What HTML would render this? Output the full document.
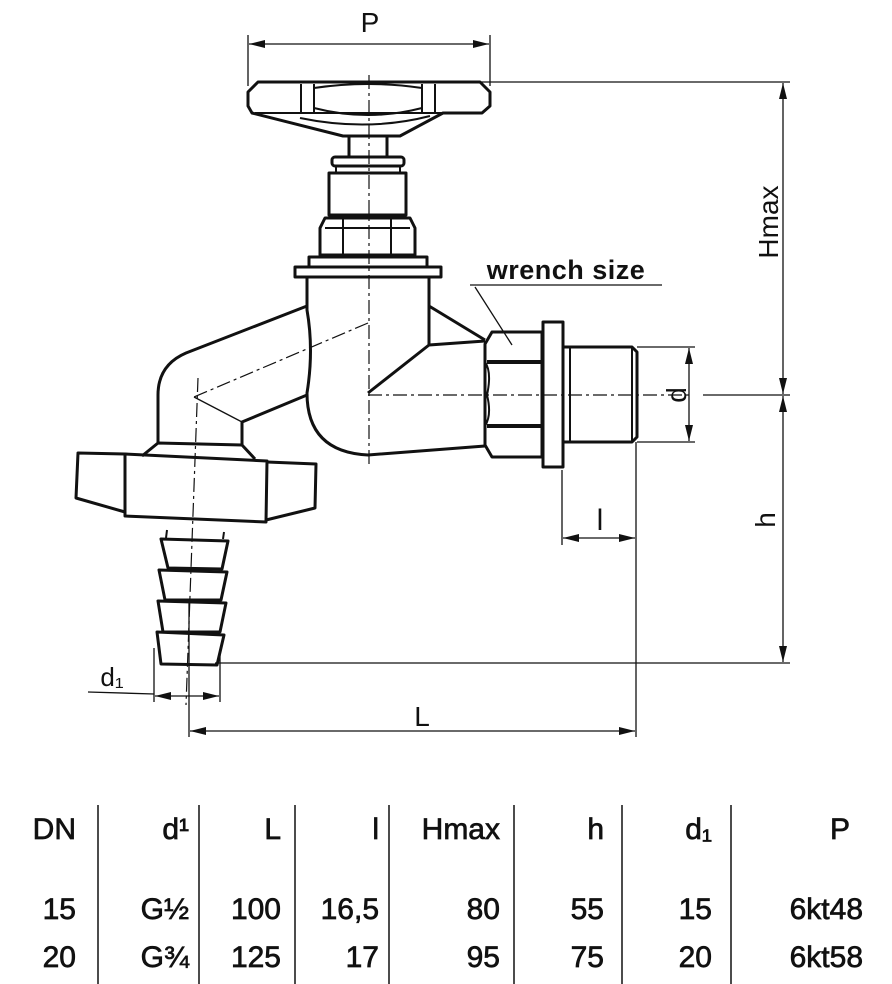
<!DOCTYPE html>
<html><head><meta charset="utf-8"><style>
body{margin:0;background:#fff;width:892px;height:984px;overflow:hidden}
svg{display:block}
text{font-family:"Liberation Sans",sans-serif;fill:#111}
</style></head><body>
<svg width="892" height="984" viewBox="0 0 892 984" xmlns="http://www.w3.org/2000/svg">
<defs>
<marker id="b" viewBox="0 0 16 8" refX="16" refY="4" markerWidth="16" markerHeight="8" orient="auto-start-reverse" markerUnits="userSpaceOnUse"><path d="M0,0 L16,4 L0,8 Z" fill="#111"/></marker>
</defs>
<g fill="none" stroke="#111" stroke-width="1.3">
<line x1="248" y1="35" x2="248" y2="86"/><line x1="490" y1="35" x2="490" y2="86"/>
<line x1="249" y1="44" x2="489" y2="44" marker-start="url(#b)" marker-end="url(#b)"/>
<line x1="480" y1="82" x2="790" y2="82"/>
<line x1="783" y1="83" x2="783" y2="394" marker-start="url(#b)" marker-end="url(#b)"/>
<line x1="783" y1="396" x2="783" y2="662" marker-start="url(#b)" marker-end="url(#b)"/>
<line x1="703" y1="395" x2="790" y2="395"/>
<line x1="215" y1="663" x2="790" y2="663"/>
<line x1="637" y1="347" x2="695" y2="347"/><line x1="637" y1="442" x2="695" y2="442"/>
<line x1="689" y1="348" x2="689" y2="441" marker-start="url(#b)" marker-end="url(#b)"/>
<line x1="562" y1="470" x2="562" y2="545"/><line x1="636" y1="442" x2="636" y2="737"/>
<line x1="563" y1="538" x2="635" y2="538" marker-start="url(#b)" marker-end="url(#b)"/>
<line x1="154" y1="648" x2="154" y2="702"/><line x1="220" y1="655" x2="220" y2="702"/>
<line x1="88" y1="692" x2="154" y2="694"/>
<line x1="155" y1="696" x2="219" y2="696" marker-start="url(#b)" marker-end="url(#b)"/>
<line x1="189" y1="600" x2="189" y2="737"/>
<line x1="190" y1="731" x2="635" y2="731" marker-start="url(#b)" marker-end="url(#b)"/>
<line x1="470" y1="285" x2="662" y2="285"/><line x1="475" y1="287" x2="512" y2="345"/>
<g stroke-dasharray="14,4,3,4" stroke-width="1.2">
<line x1="369" y1="75" x2="369" y2="465"/>
<line x1="368" y1="395" x2="690" y2="395"/>
<line x1="368" y1="323" x2="194" y2="397"/>
<line x1="198" y1="378" x2="186" y2="705"/>
</g>
<line x1="194" y1="397" x2="242" y2="422"/>
</g>
<g fill="none" stroke="#111" stroke-width="3" stroke-linejoin="round">
<path d="M258,82 L480,82 L490,92 L490,106 L482,113 L443,113 L400,136 L343,136 L252,113 L248,106 L248,92 Z"/>
<line x1="255" y1="113" x2="482" y2="113" stroke-width="2"/>
<path d="M301,84 L301,112 M314,84 L314,112 M422,84 L422,112 M435,84 L435,112" stroke-width="2"/>
<path d="M314,88 Q368,80 422,88 M314,108 Q368,122 422,108 M300,118 Q368,132 430,116" stroke-width="2"/>
<rect x="349" y="136" width="38" height="21"/>
<rect x="332" y="157" width="72" height="9" rx="3"/>
<rect x="336" y="166" width="64" height="7" stroke-width="2"/>
<rect x="329" y="173" width="77" height="42"/>
<path d="M325,218 L410,218 L415,228 L415,255 L320,255 L320,228 Z"/>
<path d="M343,218 L343,255 M391,218 L391,255 M325,228 L410,228" stroke-width="2"/>
<rect x="309" y="257" width="118" height="10"/>
<rect x="295" y="267" width="146" height="10"/>
<path d="M307,277 L307,310 Q314,350 307,393 Q307,452 368,455 L485,446"/>
<path d="M429,277 L429,345 L485,341"/>
<path d="M429,306 L485,340"/>
<path d="M429,345 L368,393"/>
<path d="M307,306 L186,353 Q158,365 158,395 L158,443"/>
<path d="M307,395 L242,422 L242,445"/>
<path d="M158,443 L242,445 L255,459 M158,443 L142,456"/>
<path d="M125,454 L267,461 L266,522 L125,516 Z"/>
<path d="M125,454 L78,453 L76,498 L125,512 M267,462 L316,464 L315,508 L266,520"/>
<path d="M167,530 L166,538 M224,532 L223,539" stroke-width="2"/>
<path d="M161,539 L228,541 L222,569 L168,568 Z"/>
<path d="M159,570 L227,572 L221,600 L165,600 Z"/>
<path d="M158,601 L226,603 L220,632 L163,632 Z"/>
<path d="M157,632 L224,635 L217,665 L161,664 Z"/>
<path d="M492,332 L542,332 L542,457 L492,457 L485,445 L485,344 Z"/>
<path d="M487,362 L542,362 M487,426 L542,426" stroke-width="4"/>
<path d="M485,362 Q492,372 487,395 M485,426 Q492,415 487,395" stroke-width="2"/>
<rect x="543" y="322" width="20" height="145"/>
<path d="M563,347 L632,347 L637,352 L637,437 L632,442 L563,442"/>
<path d="M570,347 L570,442 M632,347 L632,442" stroke-width="2"/>
</g>
<text x="370" y="32" font-size="28" text-anchor="middle">P</text>
<text x="0" y="0" font-size="28" text-anchor="middle" transform="translate(778,222) rotate(-90)">Hmax</text>
<text x="0" y="0" font-size="28" text-anchor="middle" transform="translate(686,395) rotate(-90)">d</text>
<text x="0" y="0" font-size="28" text-anchor="middle" transform="translate(775,520) rotate(-90)">h</text>
<text x="600" y="530" font-size="30" text-anchor="middle">l</text>
<text x="422" y="726" font-size="28" text-anchor="middle">L</text>
<text x="112" y="686" font-size="26" text-anchor="middle">d₁</text>
<text x="566" y="279" font-size="27" font-weight="bold" text-anchor="middle" letter-spacing="0.5">wrench size</text>
<g stroke="#111" stroke-width="1.5">
<line x1="98" y1="805" x2="98" y2="984"/><line x1="199" y1="805" x2="199" y2="984"/>
<line x1="295" y1="805" x2="295" y2="984"/><line x1="389" y1="805" x2="389" y2="984"/>
<line x1="514" y1="805" x2="514" y2="984"/><line x1="622" y1="805" x2="622" y2="984"/>
<line x1="731" y1="805" x2="731" y2="984"/>
</g>
<g font-size="30" text-anchor="end" stroke="#111" stroke-width="0.7">
<text x="76" y="839">DN</text><text x="189" y="839">d¹</text><text x="281" y="839">L</text><text x="379" y="839">l</text><text x="500" y="839">Hmax</text><text x="604" y="839">h</text><text x="712" y="839">d₁</text><text x="850" y="839">P</text>
<text x="76" y="919">15</text><text x="189" y="919">G½</text><text x="281" y="919">100</text><text x="379" y="919">16,5</text><text x="500" y="919">80</text><text x="604" y="919">55</text><text x="712" y="919">15</text><text x="863" y="919">6kt48</text>
<text x="76" y="967">20</text><text x="189" y="967">G¾</text><text x="281" y="967">125</text><text x="379" y="967">17</text><text x="500" y="967">95</text><text x="604" y="967">75</text><text x="712" y="967">20</text><text x="863" y="967">6kt58</text>
</g>
</svg>
</body></html>
